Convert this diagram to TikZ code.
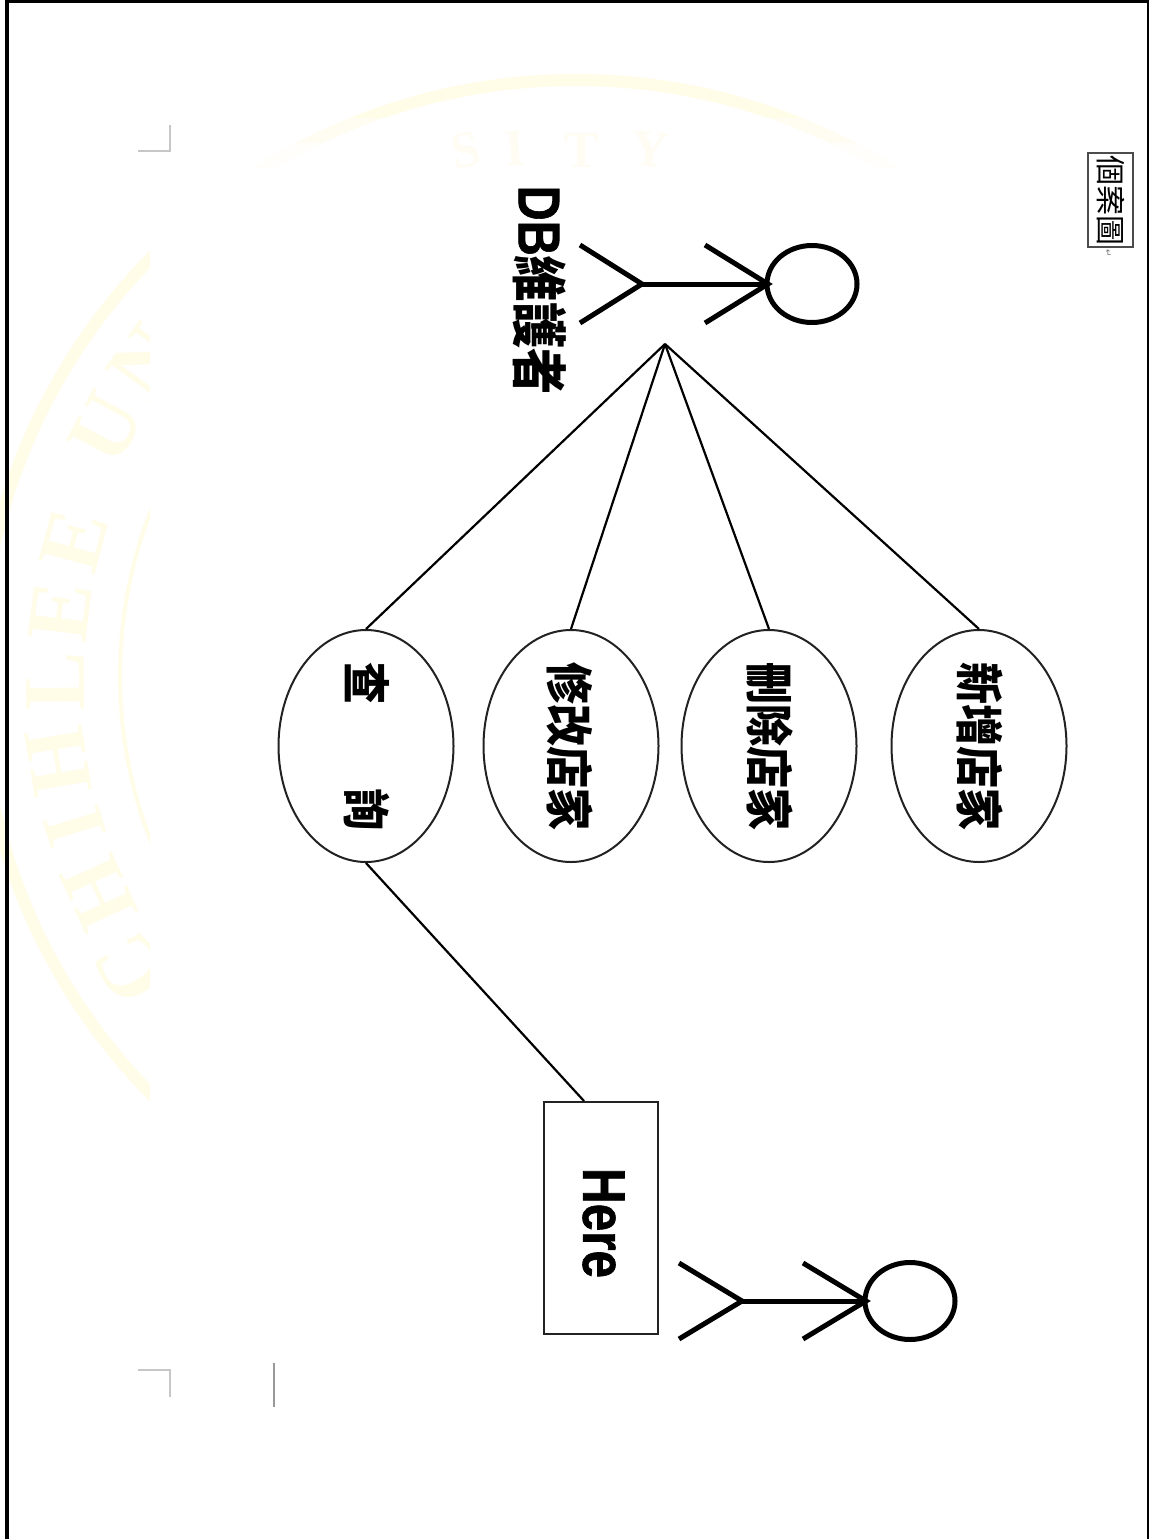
\documentclass[tikz,border=0pt]{standalone}
\usepackage{fontspec}
\usepackage{graphicx}
\setmainfont{Liberation Sans}
\newfontfamily\heavy[BoldFeatures={FakeBold=1.2}]{Liberation Sans}
\newfontfamily\cjk{Noto Sans CJK TC}
\newfontfamily\wm{Liberation Serif}
\newfontfamily\sym{DejaVu Sans}
\usetikzlibrary{shapes.geometric}
\definecolor{wmcol}{HTML}{FFFCE8}
\definecolor{wmfaint}{HTML}{FFFDF3}
\definecolor{strokegray}{HTML}{222222}
\tikzset{
  usecase/.style={draw=strokegray,line width=2pt,ellipse,inner sep=0pt,minimum width=175pt,minimum height=232pt},
  uclabel/.style={inner sep=0pt,font=\cjk\bfseries\fontsize{48}{48}\selectfont},
  stick/.style={draw=black,line width=5pt},
  actorhead/.style={draw=black,line width=5pt,ellipse,inner sep=0pt,minimum width=90pt,minimum height=77pt},
  link/.style={draw=black,line width=2.2pt},
  wmletter/.style={text=wmcol,inner sep=0pt,font=\wm\bfseries\fontsize{88}{88}\selectfont},
  wmtop/.style={text=wmfaint,inner sep=0pt,font=\wm\bfseries\fontsize{52}{52}\selectfont},
  crop/.style={draw=black!22,line width=1.4pt},
}
\newcommand{\vlabel}[2][.875]{\rotatebox{-90}{\scalebox{#1}[1]{#2}}}
\begin{document}
\begin{tikzpicture}[x=1pt,y=-1pt]
\useasboundingbox (0,0) rectangle (1149,1539);
\fill[white] (0,0) rectangle (1149,1539);
% watermark
\begin{scope}
\clip (0,0) rectangle (1125,1539);
\draw[wmcol,line width=12pt] (576,676) circle (596);
\draw[wmcol,line width=4pt] (576,676) circle (456);
\end{scope}
\node[wmletter,rotate=123] (w1) at (131,968) {C};
\node[wmletter,rotate=114.5] (w2) at (99,893) {H};
\node[wmletter,rotate=107] (w3) at (75,827) {I};
\node[wmletter,rotate=99.4] (w4) at (58,761) {H};
\node[wmletter,rotate=90.5] (w5) at (55,681) {L};
\node[wmletter,rotate=83] (w6) at (60,612) {E};
\node[wmletter,rotate=75] (w7) at (74,541) {E};
\node[wmletter,rotate=62] (w8) at (106,428) {U};
\node[wmletter,rotate=54] (w9) at (146,362) {N};
% page sheet over the watermark
\fill[white,opacity=.4] (150,118) rectangle (1130,143);
\fill[white,opacity=.8] (150,143) rectangle (1130,168);
\fill[white] (150,168) rectangle (1130,1410);
\node[wmtop,rotate=10] (t1) at (466,150) {S};
\node[wmtop,rotate=5] (t2) at (515,149) {I};
\node[wmtop,rotate=0] (t3) at (582,150) {T};
\node[wmtop,rotate=-6] (t4) at (650,150) {Y};
% outer frame
\fill[black] (5,0) rectangle (9,1539);
\fill[black] (5,0) rectangle (1149,3);
\fill[black] (1147,0) rectangle (1149,1539);
% crop marks
\draw[crop] (138,151) -- (170,151) -- (170,125);
\draw[crop] (138,1370) -- (170,1370) -- (170,1397);
\draw[draw=black!40,line width=1.2pt] (274,1363) -- (274,1407);
% actor 1
\node[actorhead] (head1) at (812,284) {};
\coordinate (hip1) at (642,284);
\coordinate (neck1) at (768,284);
\coordinate (la1) at (580,245);
\coordinate (lb1) at (580,323);
\coordinate (aa1) at (705,245);
\coordinate (ab1) at (705,323);
\draw[stick] (hip1) -- (head1.west);
\draw[stick] (la1) -- (hip1) -- (lb1);
\draw[stick] (aa1) -- (neck1) -- (ab1);
\node[inner sep=0pt] (dblabel) at (540,290) {\rotatebox{-90}{\scalebox{.825}[1]{\heavy\bfseries\fontsize{59}{59}\selectfont DB\cjk\fontsize{56}{56}\selectfont 維護者}}};
% actor 2
\node[actorhead] (head2) at (910,1301) {};
\coordinate (hip2) at (742,1301);
\coordinate (neck2) at (866,1301);
\coordinate (la2) at (679,1263);
\coordinate (lb2) at (679,1339);
\coordinate (aa2) at (803,1263);
\coordinate (ab2) at (803,1339);
\draw[stick] (hip2) -- (head2.west);
\draw[stick] (la2) -- (hip2) -- (lb2);
\draw[stick] (aa2) -- (neck2) -- (ab2);
% use cases
\node[usecase] (query) at (366,746) {};
\node[usecase] (edit) at (571,746) {};
\node[usecase] (del) at (769,746) {};
\node[usecase] (add) at (979,746) {};
\node[uclabel] (querytext) at (367,746) {\vlabel{查　　詢}};
\node[uclabel] (edittext) at (570,746) {\vlabel{修改店家}};
\node[uclabel] (deltext) at (770.5,746) {\vlabel{刪除店家}};
\node[uclabel] (addtext) at (980.5,746) {\vlabel{新增店家}};
\node[draw=strokegray,line width=2pt,minimum width=114pt,minimum height=232pt,inner sep=0pt] (here) at (601,1218) {};
\node[inner sep=0pt] (heretext) at (603.5,1223) {\rotatebox{-90}{\scalebox{.825}[1]{\heavy\bfseries\fontsize{60}{60}\selectfont Here}}};
% connectors
\coordinate (hub) at (665,344);
\coordinate (hereport) at (584,1101);
\draw[link] (hub) -- (query.north);
\draw[link] (hub) -- (edit.north);
\draw[link] (hub) -- (del.north);
\draw[link] (hub) -- (add.north);
\draw[link] (query.south) -- (hereport);
% header tag
\node[draw=black!70,line width=1.6pt,minimum width=45pt,minimum height=94pt,inner sep=0pt] (tag) at (1110.5,200) {\rotatebox{-90}{\cjk\fontsize{30}{30}\selectfont 個案圖}};
\node[inner sep=0pt,text=black!55] (mark) at (1108,253) {\rotatebox{-90}{\sym\fontsize{9}{9}\selectfont ↵}};
\end{tikzpicture}
\end{document}
